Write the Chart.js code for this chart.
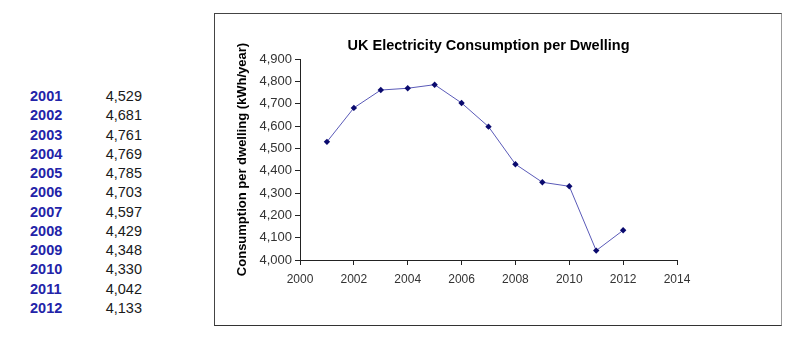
<!DOCTYPE html>
<html>
<head>
<meta charset="utf-8">
<script src="https://cdn.jsdelivr.net/npm/chart.js@4/dist/chart.umd.min.js"></script>
<style>
  html, body { margin: 0; padding: 0; background: #fff; }
  body { width: 800px; height: 341px; position: relative; overflow: hidden; font-family: Arial, "Liberation Sans", sans-serif; }
  #table { position: absolute; left: 0; top: 0; }
  .row { position: absolute; left: 0; width: 150px; height: 19px; line-height: 19px; font-size: 14.5px; }
  .row .yr { position: absolute; left: 30px; font-weight: bold; color: #2323a8; }
  .row .val { position: absolute; right: 8px; color: #1a1a1a; }
  #box { position: absolute; left: 214px; top: 13px; width: 566px; height: 311px; border: 1px solid #444; border-right-color: #999; border-bottom-color: #333; }
  #box canvas { position: absolute; left: 0; top: 0; }
</style>
</head>
<body>
<div id="table"></div>
<div id="box"><canvas id="chart" width="566" height="311"></canvas></div>
<script>
// Consumo eléctrico por vivienda (kWh/año)
const years = [2001, 2002, 2003, 2004, 2005, 2006, 2007, 2008, 2009, 2010, 2011, 2012];
const consumption = [4529, 4681, 4761, 4769, 4785, 4703, 4597, 4429, 4348, 4330, 4042, 4133];

// Límites de los ejes
const xTicks = [2000, 2014, 2];
const yTicks = [4000, 4900, 100];

const TITLE = 'UK Electricity Consumption per Dwelling';
const fmt = (v) => Number(v).toLocaleString('en-US');
const FONT = 'Arial, "Liberation Sans", sans-serif';

// Tabla a la izquierda: año en azul y valor alineado a la derecha
const table = document.getElementById('table');
years.forEach((y, i) => {
    const row = document.createElement('div');
    row.className = 'row';
    row.style.top = (87 + i * 19.27) + 'px';
    row.innerHTML = `<span class="yr">${y}</span><span class="val">${fmt(consumption[i])}</span>`;
    table.appendChild(row);
});

const points = years.map((y, i) => ({ x: y, y: consumption[i] }));

// Título centrado sobre el área de trazado (no sobre todo el lienzo)
const plotTitle = {
    id: 'plotTitle',
    afterDraw(chart) {
        const { ctx, chartArea } = chart;
        ctx.save();
        ctx.font = `bold 14.5px ${FONT}`;
        ctx.fillStyle = '#000';
        ctx.textAlign = 'center';
        ctx.textBaseline = 'middle';
        ctx.fillText(TITLE, (chartArea.left + chartArea.right) / 2, chartArea.top - 13);
        ctx.restore();
    }
};

new Chart(document.getElementById('chart'), {
    type: 'line',
    data: {
        datasets: [{
            data: points,
            borderColor: '#5a5ab8',
            borderWidth: 1,
            tension: 0,
            pointStyle: 'rectRot',
            pointRadius: 3.2,
            pointBackgroundColor: '#0a0a6e',
            pointBorderColor: '#0a0a6e',
            pointBorderWidth: 0
        }]
    },
    plugins: [plotTitle],
    options: {
        responsive: false,
        animation: false,
        layout: { padding: { left: 16, right: 104, top: 45, bottom: 0 } },
        plugins: {
            legend: { display: false },
            tooltip: { enabled: false },
            title: { display: false }
        },
        scales: {
            x: {
                type: 'linear',
                min: xTicks[0], max: xTicks[1],
                ticks: { stepSize: xTicks[2], color: '#333', font: { family: FONT, size: 12 }, padding: 7, callback: (v) => String(v) },
                grid: { drawOnChartArea: false, drawTicks: true, tickLength: 5, color: '#222' },
                border: { color: '#222', width: 1 },
                afterFit: (scale) => { scale.height = 65; }
            },
            y: {
                min: yTicks[0], max: yTicks[1],
                ticks: { stepSize: yTicks[2], color: '#333', font: { family: FONT, size: 13 }, padding: 3, callback: fmt },
                grid: { drawOnChartArea: false, drawTicks: true, tickLength: 5, color: '#222' },
                border: { color: '#222', width: 1 },
                title: {
                    display: true,
                    text: 'Consumption per dwelling (kWh/year)',
                    color: '#000',
                    font: { family: FONT, size: 13, weight: 'bold' },
                    padding: { top: 4, bottom: 4 }
                },
                afterFit: (scale) => { scale.width = 69; }
            }
        }
    }
});
</script>
</body>
</html>
